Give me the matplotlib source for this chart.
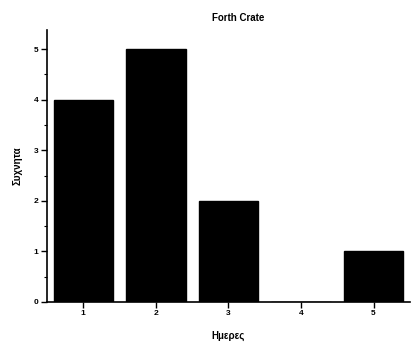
import matplotlib
matplotlib.use("Agg")
import matplotlib.pyplot as plt
from matplotlib.ticker import MultipleLocator

days = [1, 2, 3, 4, 5]
counts = [4, 5, 2, 0, 1]
title = "Forth Crate"
xlabel = "Ημερες"
ylabel = "Συχνητα"

plt.rcParams['font.family'] = ['Liberation Sans', 'DejaVu Sans']

fig = plt.figure(figsize=(4.14, 3.47), dpi=100)
ax = fig.add_axes([0.1135, 0.1297, 0.8765, 0.7838])

ax.bar(days, counts, width=0.82, color="black", edgecolor="black")

ax.set_xlim(0.5, 5.5)
ax.set_ylim(0, 5.376)
ax.set_xticks(days)
ax.yaxis.set_major_locator(MultipleLocator(1))
ax.yaxis.set_minor_locator(MultipleLocator(0.5))

for s in ("top", "right"):
    ax.spines[s].set_visible(False)
for s in ("left", "bottom"):
    ax.spines[s].set_linewidth(1.2)

ax.tick_params(axis="both", which="major", direction="out", length=4, width=1,
               labelsize=6, pad=2)
ax.tick_params(axis="y", which="minor", direction="out", length=2, width=0.8)
for lab in ax.get_xticklabels() + ax.get_yticklabels():
    lab.set_fontweight("bold")

fig.text(238 / 414, 1 - 18 / 347, title, fontsize=7, fontweight="bold",
         ha="center", va="center")
ax.set_xlabel(xlabel, fontsize=7, fontweight="bold", labelpad=10)
ax.set_ylabel(ylabel, fontsize=7, fontweight="bold", labelpad=8)

fig.savefig("out.png", dpi=100)
